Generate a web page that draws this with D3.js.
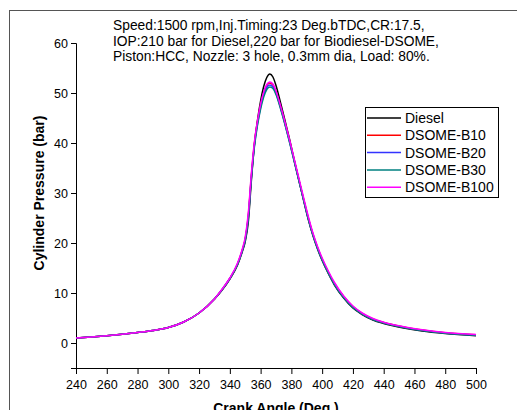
<!DOCTYPE html>
<html>
<head>
<meta charset="utf-8">
<script src="https://cdn.jsdelivr.net/npm/d3@7"></script>
<style>
  body { margin: 0; background: #fff; }
  svg { display: block; font-family: "Liberation Sans", Arial, sans-serif; }
</style>
</head>
<body>
<svg id="chart" width="517" height="410"></svg>
<script>
// Ângulos de manivela (graus)
const angles = [240,250,260,270,280,290,300,310,320,330,335,340,345,348,350,352,354,356,358,360,362,364,366,368,370,373,376,379,382,385,388,391,394,397,400,404,408,414,420,426,433,440,453,465,480,500];

// Pressão no cilindro (bar) por combustível
const diesel = [1.0,1.2,1.45,1.75,2.1,2.5,3.1,4.2,6.0,8.8,10.6,12.8,15.6,18.2,20.3,24.2,32.5,39.8,44.6,48.4,51.3,53.1,53.8,53.2,51.5,48.0,44.3,40.5,36.4,32.4,28.5,24.7,21.5,18.8,16.5,13.9,11.6,9.0,7.0,5.7,4.6,3.9,3.0,2.4,1.9,1.45];
const b10 = [1.0,1.2,1.45,1.75,2.1,2.5,3.1,4.2,6.0,8.8,10.7,12.9,15.8,18.5,20.8,25.5,33.5,40.0,44.3,47.6,50.0,51.5,52.0,51.6,50.2,47.2,43.8,40.2,36.3,32.5,28.7,25.0,21.8,19.1,16.8,14.2,11.9,9.3,7.3,5.9,4.8,4.1,3.2,2.6,2.05,1.65];
const b20 = [1.0,1.2,1.45,1.75,2.1,2.5,3.1,4.2,6.0,8.8,10.7,12.9,15.8,18.4,20.7,25.2,33.2,39.6,43.9,47.2,49.6,51.1,51.6,51.2,49.9,47.0,43.6,40.0,36.2,32.4,28.6,24.9,21.7,19.0,16.7,14.1,11.8,9.2,7.2,5.85,4.75,4.05,3.15,2.55,2.0,1.6];
const b30 = [1.0,1.2,1.45,1.75,2.1,2.5,3.1,4.2,6.0,8.8,10.7,12.9,15.7,18.4,20.6,25.0,33.0,39.3,43.6,46.8,49.2,50.7,51.2,50.9,49.7,46.8,43.5,39.9,36.1,32.3,28.5,24.8,21.6,18.9,16.6,14.0,11.7,9.1,7.1,5.8,4.7,4.0,3.1,2.5,1.95,1.55];
const b100 = [1.0,1.2,1.45,1.75,2.1,2.5,3.1,4.2,6.0,8.8,10.8,13.0,16.0,18.7,21.2,26.0,34.0,40.3,44.5,47.8,50.2,51.7,52.2,51.8,50.4,47.4,44.0,40.4,36.6,32.8,29.0,25.3,22.0,19.3,17.0,14.4,12.1,9.4,7.4,6.0,4.9,4.15,3.25,2.65,2.1,1.7];

const seriesNames = ["Diesel", "DSOME-B10", "DSOME-B20", "DSOME-B30", "DSOME-B100"];
const seriesColors = ["#000000", "#ff0000", "#3333ff", "#008080", "#ff00ff"];
const seriesValues = [diesel, b10, b20, b30, b100];

const xTicks = [240,260,280,300,320,340,360,380,400,420,440,460,480,500];
const yTicks = [0,10,20,30,40,50,60];

const noteLines = [
  "Speed:1500 rpm,Inj.Timing:23 Deg.bTDC,CR:17.5,",
  "IOP:210 bar for Diesel,220 bar for Biodiesel-DSOME,",
  "Piston:HCC, Nozzle: 3 hole, 0.3mm dia, Load: 80%."
];

const svg = d3.select("#chart");

// moldura externa
svg.append("rect")
  .attr("x", 9.5).attr("y", 10.5)
  .attr("width", 530).attr("height", 430)
  .attr("fill", "none").attr("stroke", "#555").attr("stroke-width", 1);

const x = d3.scaleLinear().domain([240, 500]).range([76, 476]);
const y = d3.scaleLinear().domain([-5, 60]).range([368, 43]);

// eixo X
const xAxis = svg.append("g").attr("transform", "translate(0,368)");
xAxis.call(d3.axisBottom(x).tickValues(d3.range(250, 500, 20)).tickSize(3).tickFormat(""));
xAxis.call(d3.axisBottom(x).tickValues(xTicks).tickSize(6).tickPadding(6).tickFormat(d3.format("d")));
xAxis.selectAll("path.domain").attr("stroke", "#000");
xAxis.selectAll("text").attr("font-size", 12.5).attr("fill", "#000")
  .attr("font-family", "Liberation Sans, Arial, sans-serif");

// eixo Y
const yAxis = svg.append("g").attr("transform", "translate(76,0)");
yAxis.call(d3.axisLeft(y).tickValues([-5,5,15,25,35,45,55]).tickSize(3).tickFormat(""));
yAxis.call(d3.axisLeft(y).tickValues(yTicks).tickSize(5).tickPadding(3).tickFormat(d3.format("d")));
yAxis.selectAll("text").attr("font-size", 12.5).attr("fill", "#000")
  .attr("font-family", "Liberation Sans, Arial, sans-serif");

// títulos dos eixos
svg.append("text")
  .attr("x", 276).attr("y", 413)
  .attr("text-anchor", "middle")
  .attr("font-size", 14).attr("font-weight", "bold")
  .text("Crank Angle (Deg.)");

svg.append("text")
  .attr("transform", "translate(44,193) rotate(-90)")
  .attr("text-anchor", "middle")
  .attr("font-size", 14).attr("font-weight", "bold")
  .text("Cylinder Pressure (bar)");

// curvas
const line = d3.line()
  .x((d, i) => x(angles[i]))
  .y(d => y(d))
  .curve(d3.curveMonotoneX);

seriesValues.forEach((vals, k) => {
  svg.append("path")
    .datum(vals)
    .attr("d", line)
    .attr("fill", "none")
    .attr("stroke", seriesColors[k])
    .attr("stroke-width", 1.5);
});

// nota de condições
svg.append("g").selectAll("text")
  .data(noteLines)
  .enter()
  .append("text")
  .attr("x", 113)
  .attr("y", (d, i) => 30 + i * 15.5)
  .attr("font-size", 13.8)
  .attr("fill", "#000")
  .text(d => d);

// legenda
const legend = svg.append("g");
legend.append("rect")
  .attr("x", 365.5).attr("y", 107.5)
  .attr("width", 133).attr("height", 90)
  .attr("fill", "#fff").attr("stroke", "#000").attr("stroke-width", 1);

seriesNames.forEach((name, k) => {
  const ly = 118 + k * 17.3;
  legend.append("line")
    .attr("x1", 367).attr("x2", 401)
    .attr("y1", ly).attr("y2", ly)
    .attr("stroke", seriesColors[k]).attr("stroke-width", 1.5);
  legend.append("text")
    .attr("x", 405).attr("y", ly + 5)
    .attr("font-size", 14)
    .attr("fill", "#000")
    .text(name);
});
</script>
</body>
</html>
